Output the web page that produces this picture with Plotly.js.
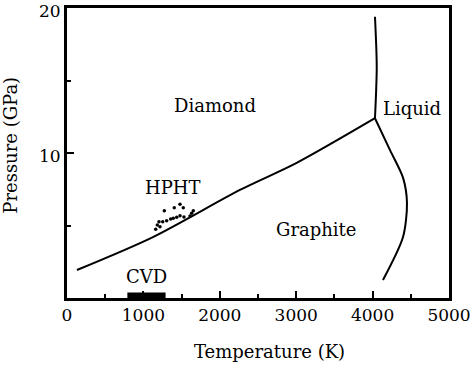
<!DOCTYPE html>
<html>
<head>
<meta charset="utf-8">
<script src="https://cdn.plot.ly/plotly-3.0.1.min.js"></script>
<style>html,body{margin:0;padding:0;background:#fff;}#chart{width:474px;height:367px;}</style>
</head>
<body>
<div id="chart"></div>
<script>
// Diamond / graphite boundary
var dgT = [130, 1125, 2264, 3000, 4031];
var dgP = [1.93, 4.2, 7.45, 9.3, 12.4];
// Diamond / liquid boundary
var dlT = [4031, 4054, 4031];
var dlP = [12.4, 15.95, 19.4];
// Graphite / liquid boundary
var glT = [4031, 4228, 4398, 4450, 4398, 4136];
var glP = [12.4, 10.2, 8.3, 6.55, 4.2, 1.24];
// HPHT synthesis points
var hphtT = [1479, 1404, 1522, 1274, 1653, 1479, 1436, 1391, 1357, 1531, 1610, 1632, 1305, 1253, 1204, 1182, 1217, 1161];
var hphtP = [6.46, 6.23, 6.23, 6.02, 6.02, 5.68, 5.57, 5.50, 5.45, 5.59, 5.66, 5.84, 5.33, 5.26, 5.26, 5.03, 4.92, 4.74];
// CVD range
var cvdT = [790, 1290];
var cvdP = [0.17, 0.17];
// Region labels
var labelText = ["Diamond", "HPHT", "CVD", "Graphite", "Liquid"];
var labelT = [1931, 1387, 1034, 3253, 4516];
var labelP = [13.3, 7.6, 1.5, 4.7, 13.1];
// Tick labels
var xTicks = [0, 1000, 2000, 3000, 4000, 5000];
var yTickVals = [0, 10, 20];
var yTickText = ["", "10", "20"];

var lineStyle = {color: "#000", width: 2, shape: "spline", smoothing: 0.8};
var traces = [
  {x: dgT, y: dgP, mode: "lines", line: lineStyle, hoverinfo: "skip"},
  {x: dlT, y: dlP, mode: "lines", line: lineStyle, hoverinfo: "skip"},
  {x: glT, y: glP, mode: "lines", line: lineStyle, hoverinfo: "skip"},
  {x: hphtT, y: hphtP, mode: "markers", marker: {color: "#000", size: 3.5}, hoverinfo: "skip"},
  {x: cvdT, y: cvdP, mode: "lines", line: {color: "#000", width: 6}, cliponaxis: false, hoverinfo: "skip"}
];

var font = {family: "DejaVu Serif", color: "#000"};
var annotations = labelText.map(function (t, i) {
  return {x: labelT[i], y: labelP[i], xref: "x", yref: "y", text: t, showarrow: false,
          font: {family: "DejaVu Serif", size: 18, color: "#000"}};
});
annotations.push({xref: "paper", yref: "paper", x: 0.53, y: -0.183, yanchor: "middle", xanchor: "center",
  text: "Temperature (K)", showarrow: false, font: {family: "DejaVu Serif", size: 18, color: "#000"}});
annotations.push({xref: "paper", yref: "paper", x: -0.147, y: 0.528, xanchor: "center", yanchor: "middle",
  text: "Pressure (GPa)", textangle: -90, showarrow: false, font: {family: "DejaVu Serif", size: 18, color: "#000"}});

var layout = {
  width: 474, height: 367,
  margin: {l: 67, r: 25, t: 8, b: 69},
  paper_bgcolor: "#fff", plot_bgcolor: "#fff",
  showlegend: false,
  font: font,
  xaxis: {
    range: [0, 5000], tickvals: xTicks, ticktext: xTicks.map(String),
    ticks: "inside", ticklen: 7, tickwidth: 2, tickcolor: "#000",
    minor: {tickmode: "linear", tick0: 0, dtick: 500, ticks: "inside", ticklen: 4, tickwidth: 2, tickcolor: "#000"},
    showline: true, linecolor: "#000", linewidth: 3, mirror: true,
    showgrid: false, zeroline: false, ticklabeloverflow: "allow",
    tickfont: {family: "DejaVu Serif", size: 17, color: "#000"}
  },
  yaxis: {
    range: [0, 20], tickvals: yTickVals, ticktext: yTickText,
    ticks: "inside", ticklen: 7, tickwidth: 2, tickcolor: "#000",
    minor: {tickmode: "linear", tick0: 0, dtick: 5, ticks: "inside", ticklen: 4, tickwidth: 2, tickcolor: "#000"},
    showline: true, linecolor: "#000", linewidth: 3, mirror: true,
    showgrid: false, zeroline: false, ticklabeloverflow: "allow", ticklabelshift: 3,
    tickfont: {family: "DejaVu Serif", size: 17, color: "#000"}
  },
  annotations: annotations
};

Plotly.newPlot("chart", traces, layout, {staticPlot: true, displayModeBar: false});
</script>
</body>
</html>
